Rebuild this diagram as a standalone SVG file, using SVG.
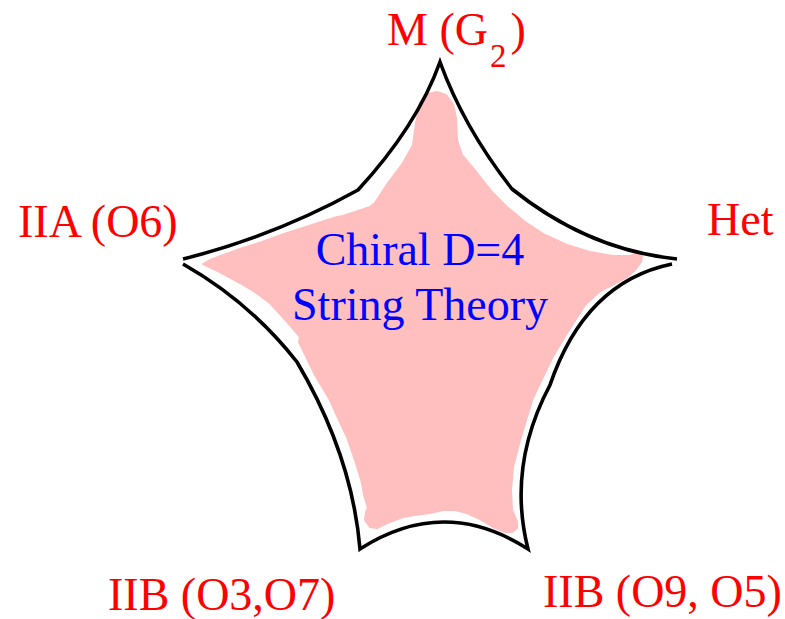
<svg xmlns="http://www.w3.org/2000/svg" width="785" height="619" viewBox="0 0 785 619">
<style>
.lbl{font-family:"Liberation Serif","Times New Roman",serif;font-size:46px;fill:#ff0000}
.ctr{font-family:"Liberation Serif","Times New Roman",serif;font-size:46px;fill:#0000ff}
.outline{fill:none;stroke:#000;stroke-width:3.6;stroke-linejoin:miter;stroke-miterlimit:10}
.blob{fill:#ffbfbf;stroke:#ffbfbf;stroke-width:2;stroke-linejoin:round}
</style>
<rect width="785" height="619" fill="#fff"/>
<g id="fill">
<path class="blob" d="M437,92 L446,95 L453,104 L456,118 L457,140 L462,155 L477,173 L492,192 L507,207 L525,222 L545,235 L567,245 L590,252 L613,256 L630,256 L638,253 L642,256 L641,262 L635,270 L627,277 L612,285 L600,291 L585,305 L567,333 L552,358 L540,383 L532,400 L527,417 L520,440 L513,467 L511,490 L512,510 L517,522 L517,528 L512,532 L505,532 L493,527 L480,519 L467,513 L455,510 L443,510 L430,513 L415,515 L403,517 L387,523 L377,528 L370,527 L365,520 L366,512 L368,508 L364,495 L362,483 L355,460 L347,437 L338,418 L330,400 L315,375 L303,350 L299,342 L300,337 L290,325 L270,303 L255,292 L240,283 L220,272 L203,264 L210,260 L237,250 L262,242 L287,233 L312,225 L337,217 L343,216 L370,207 L375,203 L388,183 L403,163 L413,145 L416,123 L420,103 L428,94 Z"/>
</g>
<g id="outline">
<path class="outline" d="M183,259 Q275,236 358,190 Q417,126 440,62 Q464,128 512,189 Q588,250 677,259 M672,264 Q585,282 550,385 Q507,466 528,549 Q444,495 360,549 Q352,455 297,362 Q250,302 183,264"/>
</g>
<g id="center">
<text class="ctr" x="420" y="265" text-anchor="middle">Chiral D=4</text>
<text class="ctr" x="420" y="320" text-anchor="middle">String Theory</text>
</g>
<g id="m-g2">
<text class="lbl" x="387" y="45">M (G<tspan font-size="33" dy="22" dx="2">2</tspan><tspan dy="-22" dx="4">)</tspan></text>
</g>
<g id="het">
<text class="lbl" x="707" y="235">Het</text>
</g>
<g id="iia">
<text class="lbl" x="18" y="237">IIA (O6)</text>
</g>
<g id="iib-o3o7">
<text class="lbl" x="108" y="610">IIB (O3,O7)</text>
</g>
<g id="iib-o9o5">
<text class="lbl" x="543" y="607">IIB (O9, O5)</text>
</g>
</svg>
